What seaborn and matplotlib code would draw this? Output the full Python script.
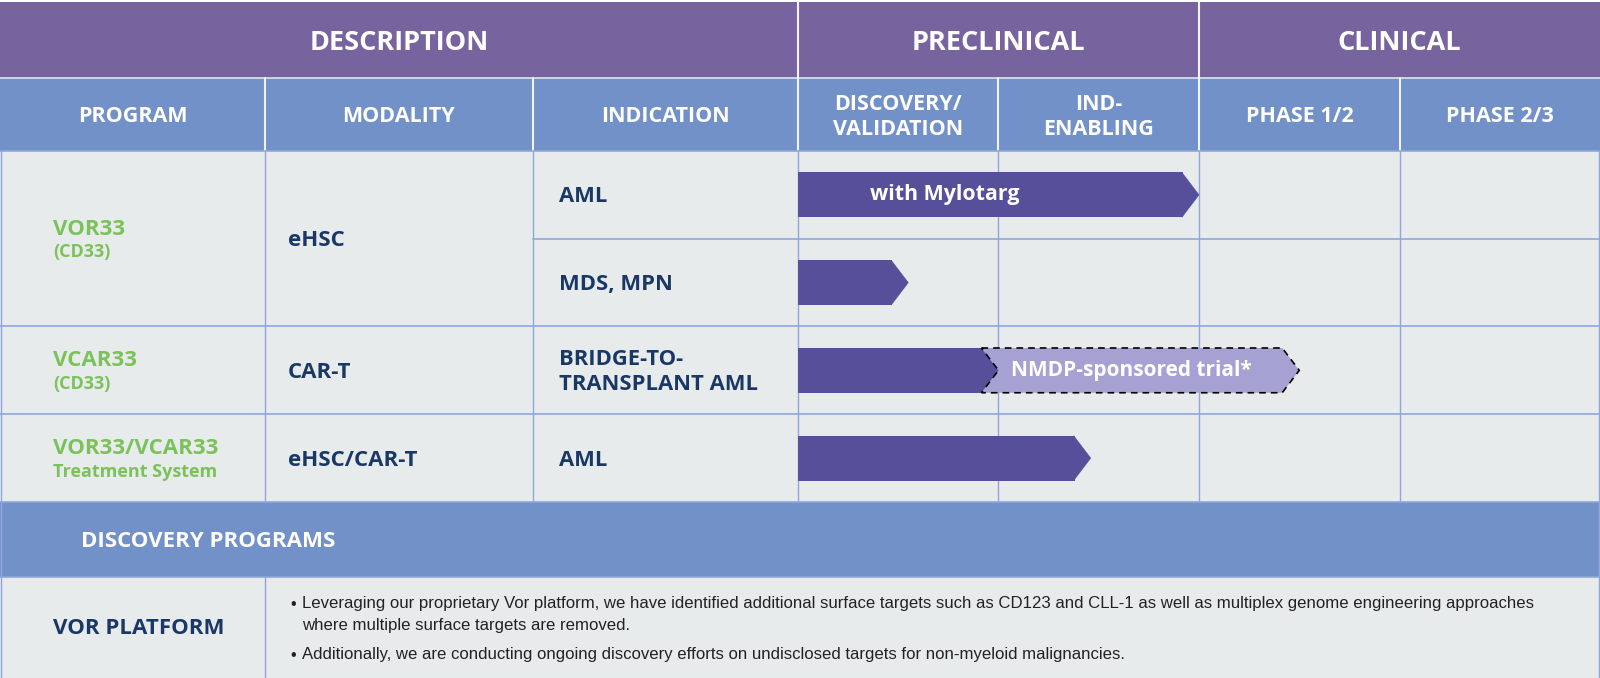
import numpy as np
import pandas as pd
import matplotlib
matplotlib.use("Agg")
import matplotlib.pyplot as plt
from matplotlib.patches import Rectangle, Polygon
import seaborn as sns

# ---- data ----
stage_groups = ["DESCRIPTION", "PRECLINICAL", "CLINICAL"]
desc_cols = ["PROGRAM", "MODALITY", "INDICATION"]
phases = ["DISCOVERY/\nVALIDATION", "IND-\nENABLING", "PHASE 1/2", "PHASE 2/3"]

programs = ["VOR33", "VCAR33", "VOR33/VCAR33"]
program_notes = ["(CD33)", "(CD33)", "Treatment System"]
modalities = ["eHSC", "CAR-T", "eHSC/CAR-T"]
indications = ["AML", "MDS, MPN", "BRIDGE-TO-\nTRANSPLANT AML", "AML"]
program_rows = [[0, 1], [2], [3]]   # indication rows belonging to each program

# progress measured in phase columns (1.0 = end of discovery/validation)
progress = [2.0, 0.55, 1.0, 1.46]
bar_labels = ["with Mylotarg", "", "", ""]
ext_row = 2
ext_end = 2.5
ext_label = "NMDP-sponsored trial*"

discovery_title = "DISCOVERY PROGRAMS"
platform_name = "VOR PLATFORM"
platform_notes = [
    "Leveraging our proprietary Vor platform, we have identified additional surface targets such as CD123 and CLL-1 as well as multiplex genome engineering approaches\nwhere multiple surface targets are removed.",
    "Additionally, we are conducting ongoing discovery efforts on undisclosed targets for non-myeloid malignancies.",
]

# ---- style ----
PURPLE = "#77649f"
BLUE = "#7391c9"
CELL = "#e8ebec"
GRID = "#8fa7da"
DARK = "#56509a"
LIGHT = "#a6a1d3"
GREEN = "#7cc25a"
NAVY = "#1a3866"

sns.set_theme(style="white")
plt.rcParams["font.family"] = ["Open Sans", "DejaVu Sans"]

W, H = 1600, 678
col_x = [0, 265, 533, 798, 998, 1199, 1400, 1600]
row_y = [2, 78, 151, 238.5, 326, 414, 502, 577, 678]

fig = plt.figure(figsize=(W / 100, H / 100), dpi=100)
ax = fig.add_axes([0, 0, 1, 1])
ax.set_xlim(0, W)
ax.set_ylim(H, 0)
ax.axis("off")

# backgrounds
ax.add_patch(Rectangle((0, row_y[0]), W, row_y[1] - row_y[0], color=PURPLE, lw=0))
ax.add_patch(Rectangle((0, row_y[1]), W, row_y[2] - row_y[1], color=BLUE, lw=0))
ax.add_patch(Rectangle((0, row_y[2]), W, row_y[6] - row_y[2], color=CELL, lw=0))
ax.add_patch(Rectangle((0, row_y[6]), W, row_y[7] - row_y[6], color=BLUE, lw=0))
ax.add_patch(Rectangle((0, row_y[7]), W, row_y[8] - row_y[7], color=CELL, lw=0))

# header separators (white)
ax.plot([0, W], [row_y[1], row_y[1]], color="#dfe4f2", lw=1.2)
for x in [col_x[3], col_x[5]]:
    ax.plot([x, x], [row_y[0], row_y[1]], color="#f2f2f7", lw=1.5)
for x in col_x[1:-1]:
    ax.plot([x, x], [row_y[1], row_y[2]], color="#f2f2f7", lw=1.5)

# body grid
for y in [row_y[2], row_y[4], row_y[5], row_y[6], row_y[7]]:
    ax.plot([0, W], [y, y], color=GRID, lw=1.2)
ax.plot([col_x[2], W], [row_y[3], row_y[3]], color=GRID, lw=1.2)
for x in col_x[1:-1]:
    ax.plot([x, x], [row_y[2], row_y[6]], color=GRID, lw=1.0)
ax.plot([col_x[1], col_x[1]], [row_y[7], row_y[8]], color=GRID, lw=1.0)
for x in [1, W - 1]:
    ax.plot([x, x], [row_y[2], row_y[8]], color=GRID, lw=1.0)

# header texts
group_spans = [(col_x[0], col_x[3]), (col_x[3], col_x[5]), (col_x[5], col_x[7])]
for name, (a, b) in zip(stage_groups, group_spans):
    ax.text((a + b) / 2, (row_y[0] + row_y[1]) / 2 + 3.5, name, ha="center", va="center",
            color="white", fontsize=19.5, fontweight="bold")
heads = desc_cols + phases
for i, name in enumerate(heads):
    ax.text((col_x[i] + col_x[i + 1]) / 2, (row_y[1] + row_y[2]) / 2 + 2.5, name,
            ha="center", va="center", color="white", fontsize=15.5, fontweight="bold",
            linespacing=1.2)

# description columns
row_mid = [(row_y[2 + i] + row_y[3 + i]) / 2 for i in range(4)]
for p, note, mod, rows in zip(programs, program_notes, modalities, program_rows):
    yc = np.mean([row_mid[r] for r in rows])
    ax.text(53, yc - 9, p, ha="left", va="center", color=GREEN, fontsize=16, fontweight="bold")
    ax.text(53, yc + 14, note, ha="left", va="center", color=GREEN, fontsize=13, fontweight="bold")
    ax.text(288, yc + 2, mod, ha="left", va="center", color=NAVY, fontsize=16, fontweight="bold")
for i, ind in enumerate(indications):
    ax.text(559, row_mid[i] + 2, ind, ha="left", va="center", color=NAVY, fontsize=15.8,
            fontweight="bold", linespacing=1.25)

# discovery section
ax.text(81, (row_y[6] + row_y[7]) / 2 + 2, discovery_title, ha="left", va="center",
        color="white", fontsize=16, fontweight="bold")
ax.text(col_x[1] / 2 + 6, (row_y[7] + row_y[8]) / 2 + 1, platform_name, ha="center", va="center",
        color=NAVY, fontsize=16, fontweight="bold")
note_y = [596, 647]
for y, note in zip(note_y, platform_notes):
    ax.text(290, y + 1, "\u2022", ha="left", va="top", color="#222222", fontsize=11.5,
            family="Liberation Sans")
    ax.text(302, y, note, ha="left", va="top", color="#222222", fontsize=12.1,
            family="Liberation Sans", linespacing=1.55)

# ---- pipeline bars ----
pax = fig.add_axes([col_x[3] / W, 1 - row_y[6] / H, (W - col_x[3]) / W, (row_y[6] - row_y[2]) / H])
pax.patch.set_alpha(0)

tip = 0.085
bar_h = 0.51
df = pd.DataFrame({"row": [str(i) for i in range(len(progress))],
                   "body": np.array(progress) - tip + 0.005})
sns.barplot(data=df, y="row", x="body", orient="h", color=DARK, saturation=1,
            width=bar_h, errorbar=None, linewidth=0, ax=pax)

for i, p in enumerate(progress):
    pax.add_patch(Polygon([(p - tip, i - bar_h / 2), (p, i), (p - tip, i + bar_h / 2)],
                          closed=True, facecolor=DARK, edgecolor=DARK, lw=0.4))
    if bar_labels[i]:
        pax.text(0.36, i, bar_labels[i], ha="left", va="center", color="white",
                 fontsize=15.4, fontweight="bold")

s = progress[ext_row] - tip
i = ext_row
pax.add_patch(Polygon([(s, i - bar_h / 2), (ext_end - tip, i - bar_h / 2), (ext_end, i),
                       (ext_end - tip, i + bar_h / 2), (s, i + bar_h / 2), (progress[ext_row], i)],
                      closed=True, facecolor=LIGHT, edgecolor="black", lw=1.2,
                      linestyle=(0, (4, 3)), zorder=5))
pax.text(1.06, i, ext_label, ha="left", va="center", color="white", fontsize=15,
         fontweight="bold", zorder=6)

pax.set_xlim(0, 4)
pax.set_ylim(3.5, -0.5)
pax.axis("off")

fig.savefig("out.png", dpi=100)
